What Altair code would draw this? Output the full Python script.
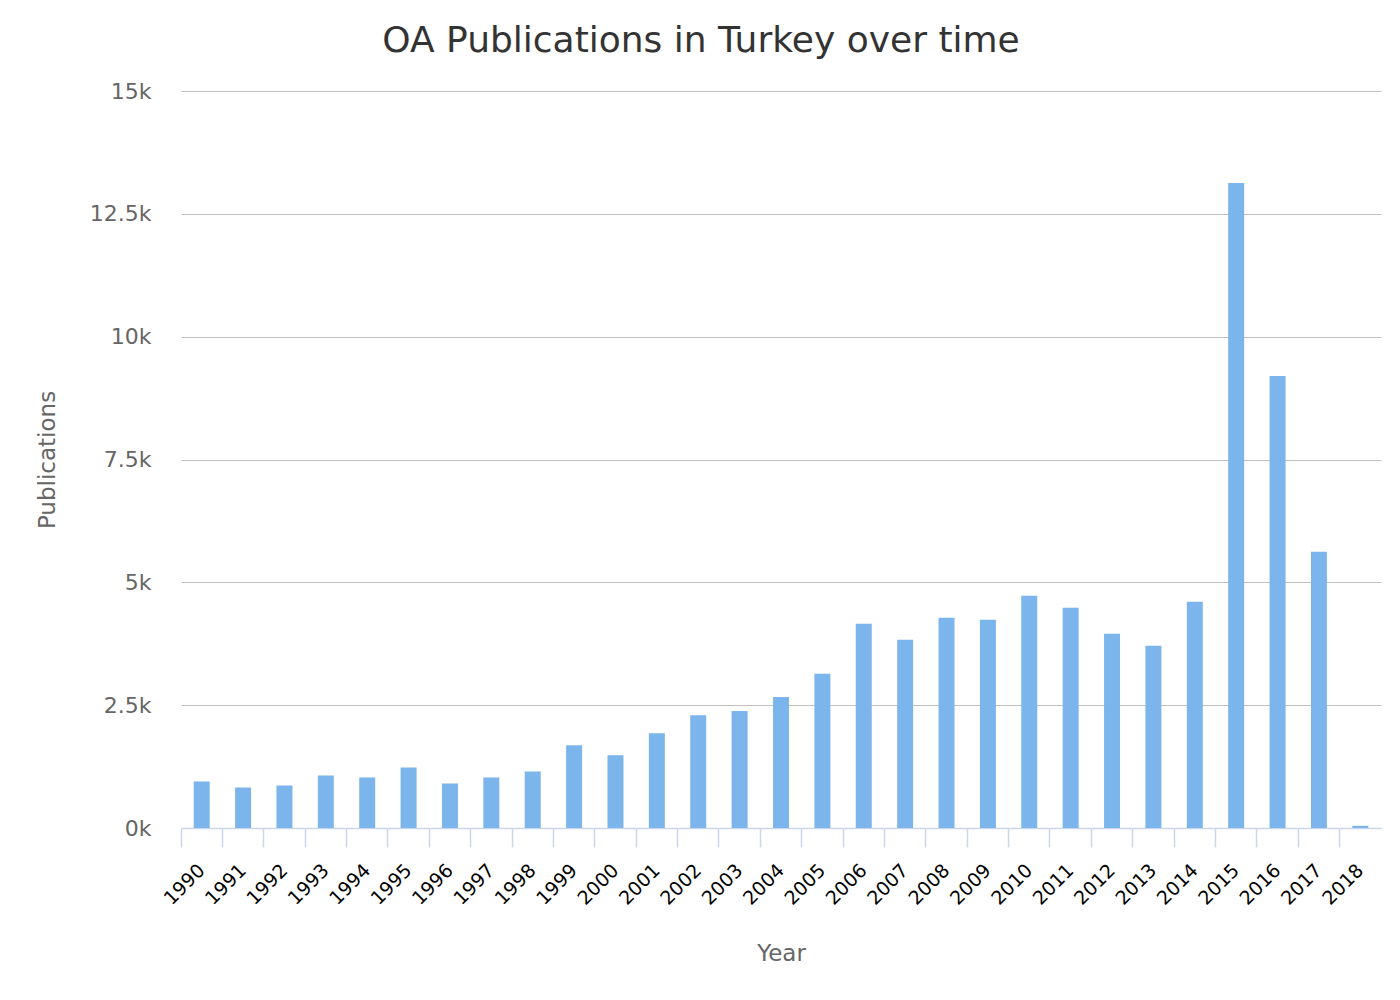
import altair as alt
import pandas as pd

years = [str(y) for y in range(1990, 2019)]
publications = [947, 824, 865, 1070, 1029, 1233, 906, 1029, 1151, 1683,
                1479, 1929, 2297, 2379, 2665, 3138, 4157, 3831, 4280, 4239,
                4728, 4483, 3953, 3709, 4606, 13126, 9199, 5625, 45]
y_ticks = [0, 2500, 5000, 7500, 10000, 12500, 15000]

df = pd.DataFrame({"Year": years, "Publications": publications})

W, H = 1200, 737
FONT = "DejaVu Sans"

chart = alt.Chart(df).mark_bar(
    size=16, color="#7cb5ec"
).encode(
    x=alt.X("Year:N", sort=years,
            scale=alt.Scale(paddingInner=0, paddingOuter=0),
            axis=alt.Axis(title="Year", bandPosition=0,
                          labelAngle=315, labelAlign="right", labelBaseline="middle",
                          labelFontSize=19, labelColor="#000000", labelFont=FONT,
                          labelPadding=20, tickSize=19, tickColor="#ccd6eb", tickWidth=1.5,
                          domainColor="#ccd6eb", domainWidth=1.5,
                          titleFontSize=23, titleColor="#666666", titleFont=FONT,
                          titleFontWeight="normal", titlePadding=34, labelOverlap=False)),
    y=alt.Y("Publications:Q",
            scale=alt.Scale(domain=[0, 15000], nice=False),
            axis=alt.Axis(title="Publications", values=y_ticks,
                          labelExpr="datum.value / 1000 + 'k'",
                          labelFontSize=22, labelColor="#666666", labelFont=FONT,
                          labelPadding=30, ticks=False, domain=False,
                          grid=True, gridColor="#c0c0c0", gridWidth=1.2,
                          titleFontSize=23, titleColor="#666666", titleFont=FONT,
                          titleFontWeight="normal", titlePadding=30)),
).properties(
    width=W, height=H,
    title=alt.TitleParams("OA Publications in Turkey over time", fontSize=36,
                          font=FONT, color="#333333", fontWeight="normal",
                          anchor="middle", dx=-80, dy=38, offset=30, baseline="alphabetic"),
    autosize=alt.AutoSizeParams(type="none"),
    padding={"left": 173, "top": 83, "right": 10, "bottom": 150},
).configure_view(stroke=None)

chart.save("out.html", embed_options={"renderer": "svg", "actions": False})
